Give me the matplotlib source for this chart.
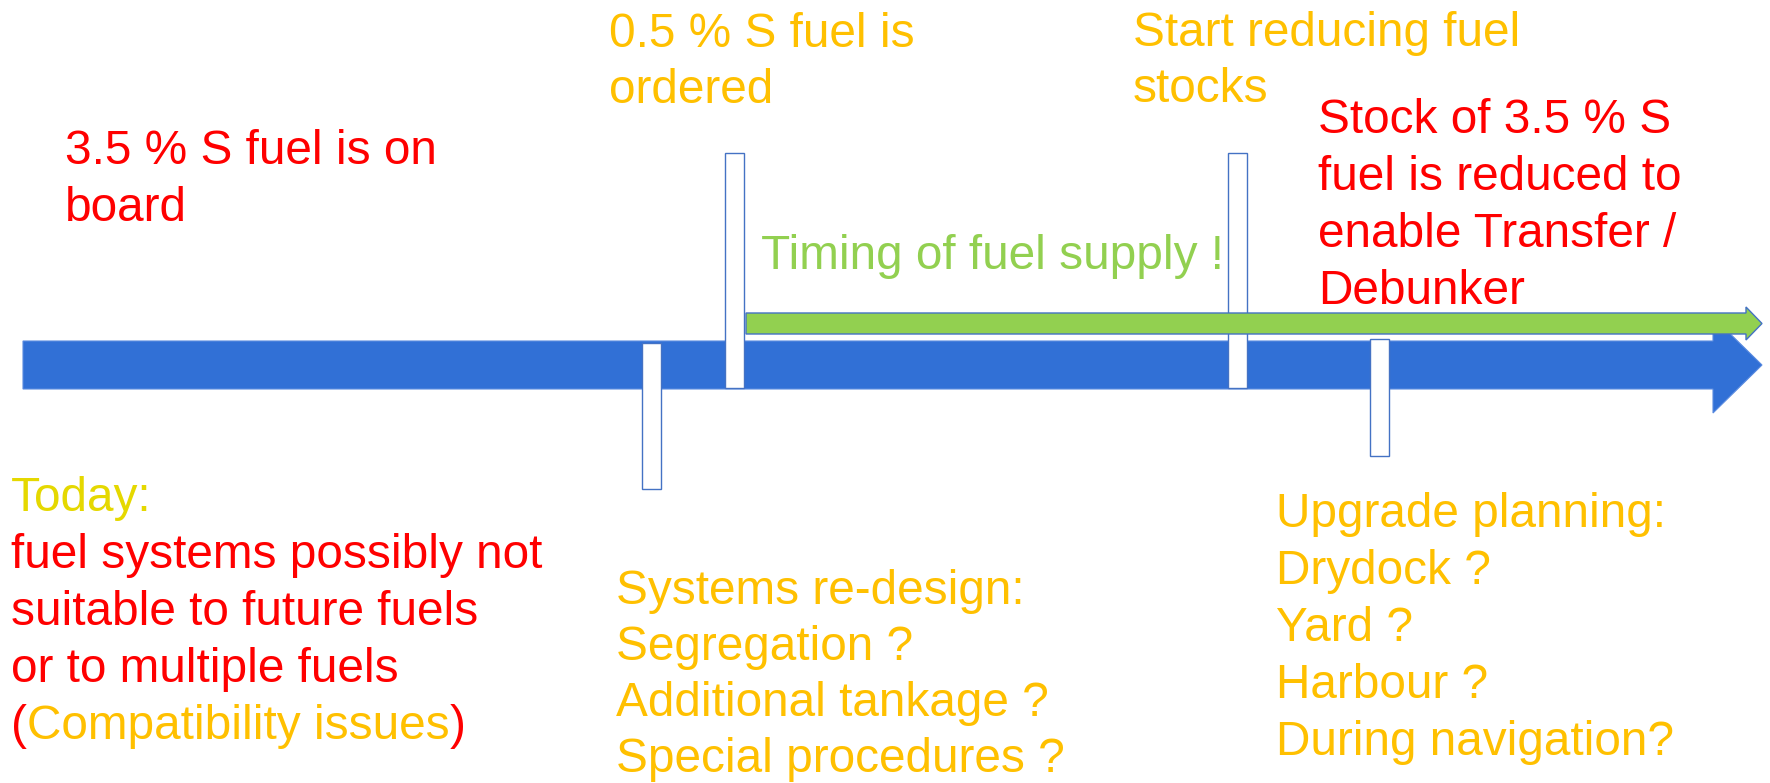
import matplotlib
matplotlib.use("Agg")
import matplotlib.pyplot as plt
from matplotlib.patches import Polygon, Rectangle

# ---- content ----
board_lines = ["3.5 % S fuel is on", "board"]
ordered_lines = ["0.5 % S fuel is", "ordered"]
reducing_lines = ["Start reducing fuel", "stocks"]
stock_lines = ["Stock of 3.5 % S", "fuel is reduced to", "enable Transfer /", "Debunker"]
timing_label = "Timing of fuel supply !"
today_head = "Today:"
today_lines = ["fuel systems possibly not", "suitable to future fuels", "or to multiple fuels"]
compat_parts = [("(", "red"), ("Compatibility issues", "orange"), (")", "red")]
redesign_lines = ["Systems re-design:", "Segregation ?", "Additional tankage ?", "Special procedures ?"]
upgrade_lines = ["Upgrade planning:", "Drydock ?", "Yard ?", "Harbour ?", "During navigation?"]

# ---- style ----
W, H = 1770, 783
BLUE = "#3170D6"
EDGE = "#4472C4"
GREEN = "#92D050"
RED = "#FF0000"
ORANGE = "#FFC000"
YELLOW = "#E5D800"
COLORS = {"red": RED, "orange": ORANGE}
FS = 34.4
LS = 57
FONT = "Liberation Sans"

fig = plt.figure(figsize=(W / 100, H / 100), dpi=100)
ax = fig.add_axes([0, 0, 1, 1])
ax.set_xlim(0, W)
ax.set_ylim(H, 0)
ax.axis("off")

# main timeline arrow
blue = Polygon([(23, 341), (1713, 341), (1713, 317), (1762, 365), (1713, 413),
                (1713, 389), (23, 389)], closed=True, facecolor=BLUE,
               edgecolor="#5A8BE0", linewidth=0.8, zorder=1)
ax.add_patch(blue)

# milestone markers (x, y_top, y_bottom)
markers = [(642, 343, 489), (725, 153, 388), (1228, 153, 388), (1370, 339, 456)]
for x0, y0, y1 in markers:
    ax.add_patch(Rectangle((x0, y0), 19, y1 - y0, facecolor="white",
                           edgecolor=EDGE, linewidth=1.0, zorder=2))

# fuel supply arrow
green = Polygon([(746, 313), (1746, 313), (1746, 307), (1762, 323.5), (1746, 340),
                 (1746, 334), (746, 334)], closed=True, facecolor=GREEN,
                edgecolor=EDGE, linewidth=1.0, zorder=3)
ax.add_patch(green)


def block(lines, x, y0, color, ls=LS):
    for i, s in enumerate(lines):
        ax.text(x, y0 + i * ls, s, color=color, fontsize=FS, family=FONT,
                ha="left", va="baseline", zorder=5)


block(board_lines, 65, 164, RED)
block(ordered_lines, 609, 47, ORANGE, ls=56)
block(reducing_lines, 1133, 46, ORANGE, ls=56)
block(stock_lines, 1318, 133, RED)
ax.text(761, 269, timing_label, color=GREEN, fontsize=FS, family=FONT,
        ha="left", va="baseline", zorder=5)
TODAY_Y = 511
ax.text(11, TODAY_Y, today_head, color=YELLOW, fontsize=FS, family=FONT,
        ha="left", va="baseline", zorder=5)
block(today_lines, 11, TODAY_Y + LS, RED)

# mixed-colour line
fig.canvas.draw()
renderer = fig.canvas.get_renderer()
xcur = 11
ybase = TODAY_Y + 4 * LS
for s, c in compat_parts:
    t = ax.text(xcur, ybase, s, color=COLORS[c], fontsize=FS, family=FONT,
                ha="left", va="baseline", zorder=5)
    bb = t.get_window_extent(renderer=renderer)
    xcur += bb.width * W / fig.bbox.width

block(redesign_lines, 616, 604, ORANGE, ls=56)
block(upgrade_lines, 1276, 527, ORANGE)

fig.savefig("out.png", dpi=100, facecolor="white")
